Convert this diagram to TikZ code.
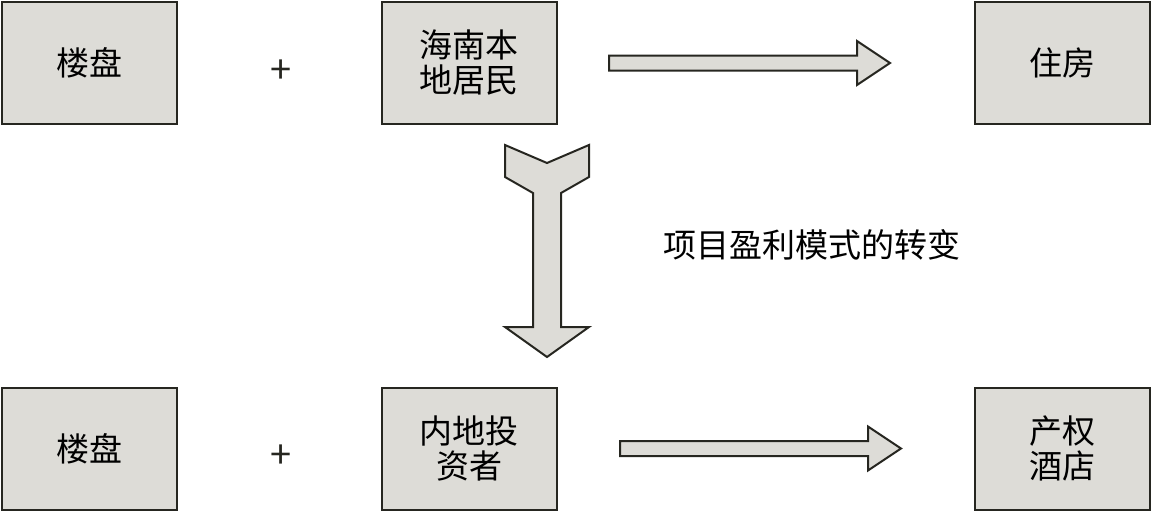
\documentclass[tikz,border=0pt]{standalone}
\usepackage{fontspec}
\newfontfamily\cjk{Noto Sans CJK SC}
\usetikzlibrary{calc}
\definecolor{boxfill}{RGB}{221,220,215}
\definecolor{boxline}{RGB}{38,38,32}
\tikzset{
  box/.style={draw=boxline,fill=boxfill,line width=1pt,minimum width=87.5pt,
    minimum height=61pt,inner sep=0pt,align=center,
    font=\cjk\fontsize{16.5}{17.5}\selectfont},
  plus/.style={font=\cjk\fontsize{19}{19}\selectfont,text=boxline,inner sep=0pt},
  fatarrow/.style={draw=boxline,fill=boxfill,line width=1pt,line join=miter}
}
% horizontal block arrow from #1 to #2
\newcommand{\blockarrow}[2]{%
  \draw[fatarrow] ($(#1)+(0,-7.5)$) -- ($(#2)+(-33,-7.5)$) -- ($(#2)+(-33,-22)$)
    -- (#2) -- ($(#2)+(-33,22)$) -- ($(#2)+(-33,7.5)$) -- ($(#1)+(0,7.5)$) -- cycle;}
\begin{document}
\begin{tikzpicture}[x=0.5pt,y=-0.5pt]
\useasboundingbox (0,0) rectangle (1152,511);
% top row
\node[box] (lp1) at (89.5,62.5) {楼盘};
\node[plus] (plus1) at (281,72) {+};
\node[box] (hn) at (469,62.5) {海南本\\地居民};
\node[box] (zf) at (1062,62.5) {住房};
% bottom row
\node[box] (lp2) at (89.5,448.5) {楼盘};
\node[plus] (plus2) at (281,457) {+};
\node[box] (nd) at (469,448.5) {内地投\\资者};
\node[box] (cq) at (1062,448.5) {产权\\酒店};
\node[font=\cjk\fontsize{16.5}{16.5}\selectfont] (shift) at (812,245) {项目盈利模式的转变};
% arrows
\coordinate (a1s) at (609,63);
\coordinate (a1e) at (890,63);
\coordinate (a2s) at (620,448.5);
\coordinate (a2e) at (901,448.5);
\blockarrow{a1s}{a1e}
\blockarrow{a2s}{a2e}
\draw[fatarrow] (505,145) -- (547,163) -- (589,145) -- (589,177) -- (561,193)
  -- (561,327) -- (589,327) -- (547,357) -- (505,327) -- (533,327)
  -- (533,193) -- (505,177) -- cycle;
\end{tikzpicture}
\end{document}
